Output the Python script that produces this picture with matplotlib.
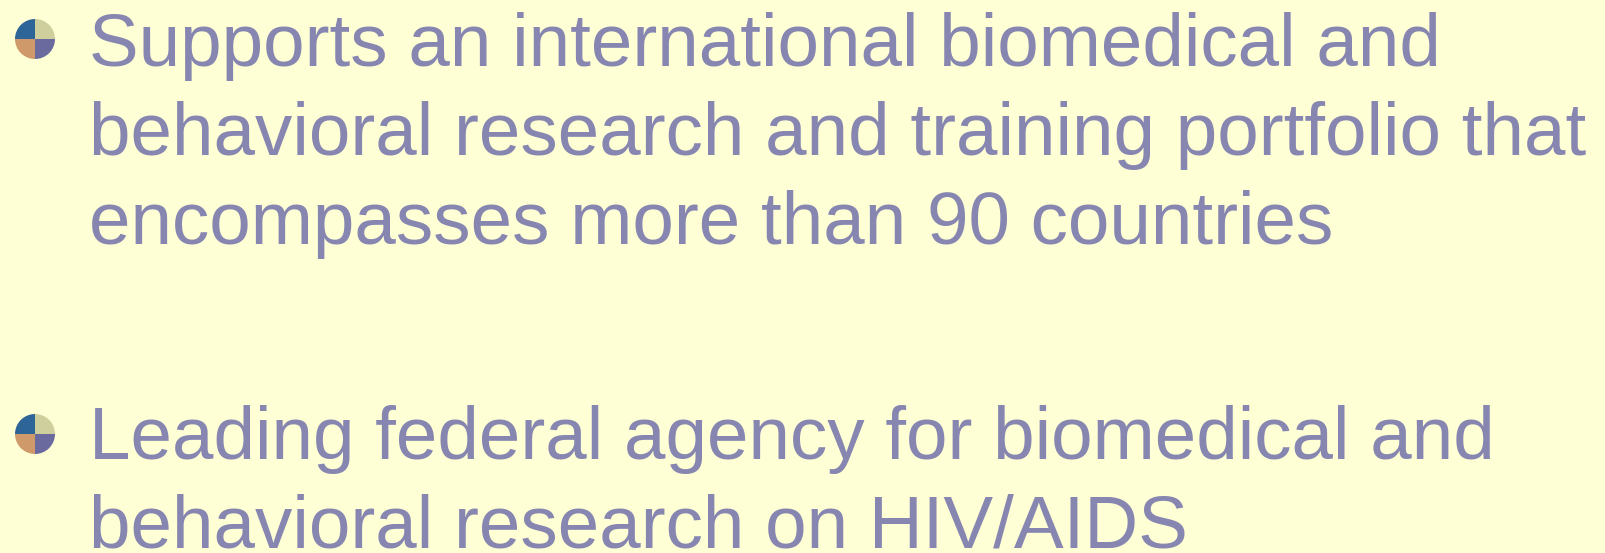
import matplotlib.pyplot as plt
from matplotlib.patches import Wedge

# slide text, one entry per line
lines = [
    "Supports an international biomedical and",
    "behavioral research and training portfolio that",
    "encompasses more than 90 countries",
    "Leading federal agency for biomedical and",
    "behavioral research on HIV/AIDS",
]
baselines = [66, 155, 244, 459, 548]   # pixel rows of each line
bullet_rows = [39, 434]
# quadrant colours (y axis is flipped): bottom-right, bottom-left, top-left, top-right
quad_colors = ["#6B6A9F", "#D0996A", "#2E6599", "#CFCF9E"]

bg = "#FFFFD6"
text_color = "#8686B0"

W, H = 1605, 553
fig = plt.figure(figsize=(W / 100, H / 100), dpi=100, facecolor=bg)
ax = fig.add_axes([0, 0, 1, 1])
ax.set_xlim(0, W)
ax.set_ylim(H, 0)
ax.set_facecolor(bg)
ax.axis("off")

for y in bullet_rows:
    for i, c in enumerate(quad_colors):
        ax.add_patch(Wedge((35, y), 20, 90 * i, 90 * (i + 1), facecolor=c, edgecolor="none"))

for txt, y in zip(lines, baselines):
    ax.text(89, y, txt, fontsize=53.7, color=text_color, family="Liberation Sans",
            ha="left", va="baseline")

fig.savefig("out.png", dpi=100, facecolor=bg)
